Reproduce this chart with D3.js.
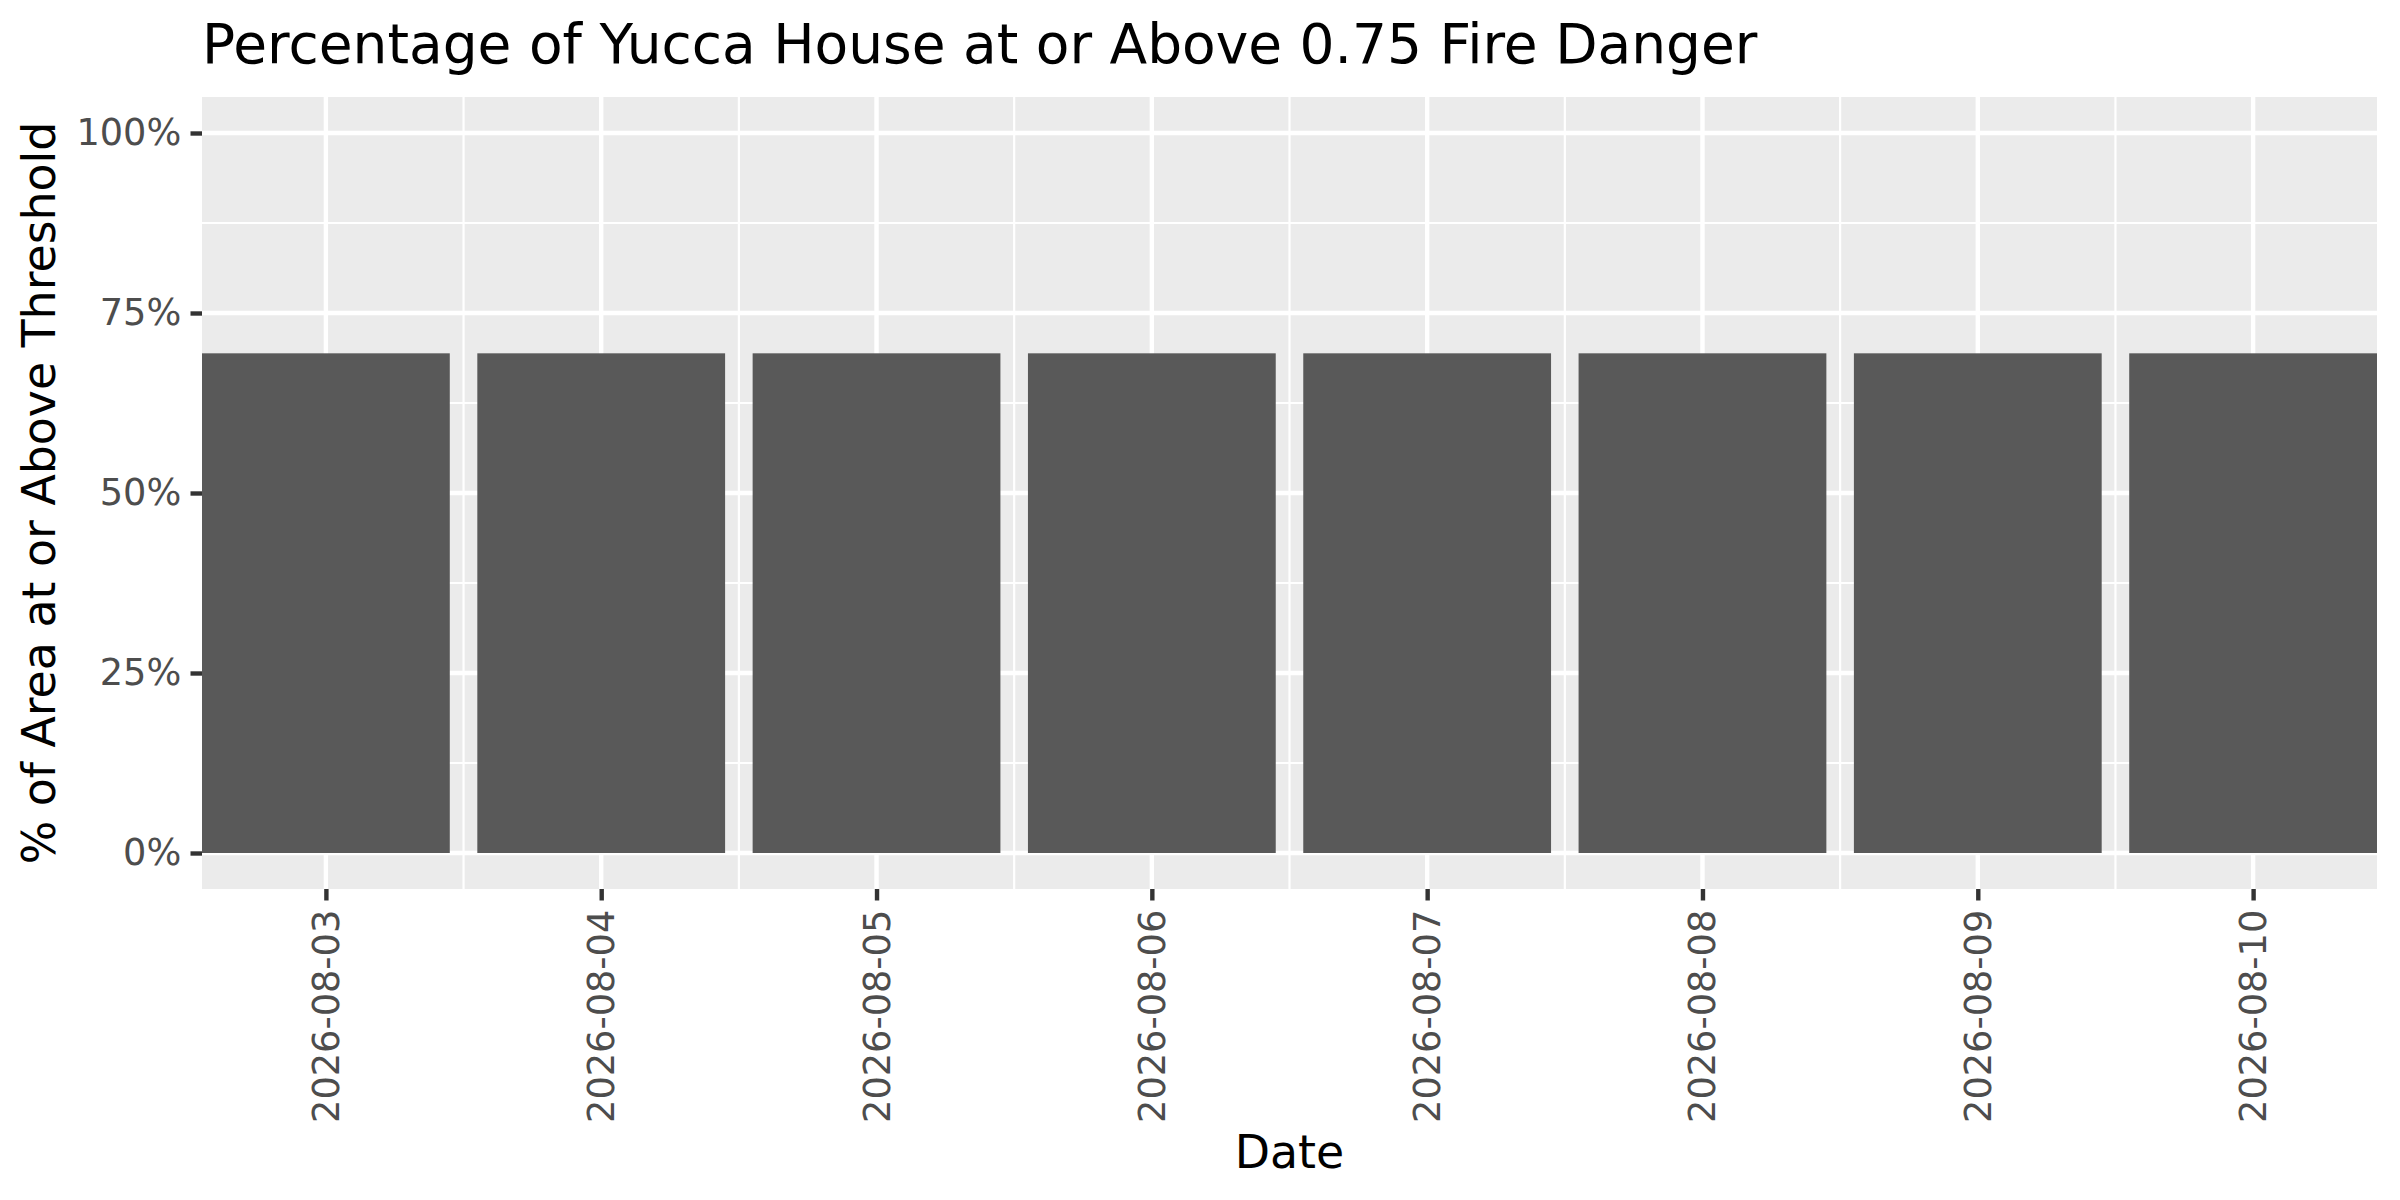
<!DOCTYPE html>
<html>
<head>
<meta charset="utf-8">
<script src="https://cdn.jsdelivr.net/npm/d3@7"></script>
<style>
  body { margin: 0; background: #fff; }
  svg { display: block; font-family: "DejaVu Sans", sans-serif; }
</style>
</head>
<body>
<div id="chart"></div>
<script>
'use strict'

// data
const dates = ['2026-08-03', '2026-08-04', '2026-08-05', '2026-08-06',
  '2026-08-07', '2026-08-08', '2026-08-09', '2026-08-10']
const pctAbove = [69.4, 69.4, 69.4, 69.4, 69.4, 69.4, 69.4, 69.4]
const yTicks = [0, 25, 50, 75, 100]
const yMinor = [12.5, 37.5, 62.5, 87.5]

const W = 2400, H = 1200
// panel box (ggplot-ish layout at 300 dpi)
const panel = { left: 202, right: 2377, top: 97, bottom: 889 }

const svg = d3.select('#chart').append('svg')
  .attr('width', W)
  .attr('height', H)

// x: index scale, bars touch the panel edges (no extra expansion)
const x = d3.scaleLinear()
  .domain([0.55, dates.length + 0.45])
  .range([panel.left, panel.right])

// y: 0..100 with 5% expansion each side
const y = d3.scaleLinear()
  .domain([-5, 105])
  .range([panel.bottom, panel.top])

const barW = 0.9

// panel background
svg.append('rect')
  .attr('x', panel.left).attr('y', panel.top)
  .attr('width', panel.right - panel.left)
  .attr('height', panel.bottom - panel.top)
  .attr('fill', '#ebebeb')

const grid = svg.append('g')
// minor grid, y
grid.selectAll('line.ymin').data(yMinor).join('line')
  .attr('class', 'ymin')
  .attr('x1', panel.left).attr('x2', panel.right)
  .attr('y1', d => y(d)).attr('y2', d => y(d))
  .attr('stroke', '#fff').attr('stroke-width', 2.2)
// minor grid, x (half days between bars)
const xMinor = d3.range(1, dates.length).map(i => i + 0.5)
grid.selectAll('line.xmin').data(xMinor).join('line')
  .attr('class', 'xmin')
  .attr('y1', panel.top).attr('y2', panel.bottom)
  .attr('x1', d => x(d)).attr('x2', d => x(d))
  .attr('stroke', '#fff').attr('stroke-width', 2.2)
// major grid
grid.selectAll('line.ymaj').data(yTicks).join('line')
  .attr('class', 'ymaj')
  .attr('x1', panel.left).attr('x2', panel.right)
  .attr('y1', d => y(d)).attr('y2', d => y(d))
  .attr('stroke', '#fff').attr('stroke-width', 4.4)
grid.selectAll('line.xmaj').data(dates).join('line')
  .attr('class', 'xmaj')
  .attr('y1', panel.top).attr('y2', panel.bottom)
  .attr('x1', (d, i) => x(i + 1)).attr('x2', (d, i) => x(i + 1))
  .attr('stroke', '#fff').attr('stroke-width', 4.4)

// bars
svg.append('g').selectAll('rect').data(pctAbove).join('rect')
  .attr('x', (d, i) => x(i + 1 - barW / 2))
  .attr('width', (d, i) => x(i + 1 + barW / 2) - x(i + 1 - barW / 2))
  .attr('y', d => y(d))
  .attr('height', d => y(0) - y(d))
  .attr('fill', '#595959')

// axes, d3 axis generators styled like ggplot
const tickLen = 11.5, tickPad = 9.2

const yAxis = svg.append('g')
  .attr('transform', `translate(${panel.left},0)`)
  .call(d3.axisLeft(y).tickValues(yTicks)
    .tickFormat(d => d + '%')
    .tickSize(tickLen).tickPadding(tickPad))
yAxis.select('.domain').remove()
yAxis.selectAll('.tick line').attr('stroke', '#333333').attr('stroke-width', 4.4)
yAxis.selectAll('.tick text')
  .attr('fill', '#4d4d4d')
  .attr('font-size', 36.7)
  .attr('font-family', '"DejaVu Sans", sans-serif')

const xAxis = svg.append('g')
  .attr('transform', `translate(0,${panel.bottom})`)
  .call(d3.axisBottom(x).tickValues(d3.range(1, dates.length + 1))
    .tickFormat(d => dates[d - 1])
    .tickSize(tickLen).tickPadding(tickPad))
xAxis.select('.domain').remove()
xAxis.selectAll('.tick line').attr('stroke', '#333333').attr('stroke-width', 4.4)
xAxis.selectAll('.tick text')
  .attr('fill', '#4d4d4d')
  .attr('font-size', 36.7)
  .attr('font-family', '"DejaVu Sans", sans-serif')
  .attr('y', 0).attr('dy', null)
  .attr('text-anchor', 'end')
  .attr('dominant-baseline', 'central')
  .attr('transform', `translate(0,${tickLen + tickPad}) rotate(-90)`)

// titles
svg.append('text')
  .attr('x', panel.left).attr('y', 62.5)
  .attr('font-size', 55)
  .attr('fill', '#000')
  .text('Percentage of Yucca House at or Above 0.75 Fire Danger')

svg.append('text')
  .attr('x', (panel.left + panel.right) / 2).attr('y', 1168)
  .attr('text-anchor', 'middle')
  .attr('font-size', 45.8)
  .attr('fill', '#000')
  .text('Date')

svg.append('text')
  .attr('transform', `translate(55,${(panel.top + panel.bottom) / 2}) rotate(-90)`)
  .attr('text-anchor', 'middle')
  .attr('font-size', 45.8)
  .attr('fill', '#000')
  .text('% of Area at or Above Threshold')
</script>
</body>
</html>
